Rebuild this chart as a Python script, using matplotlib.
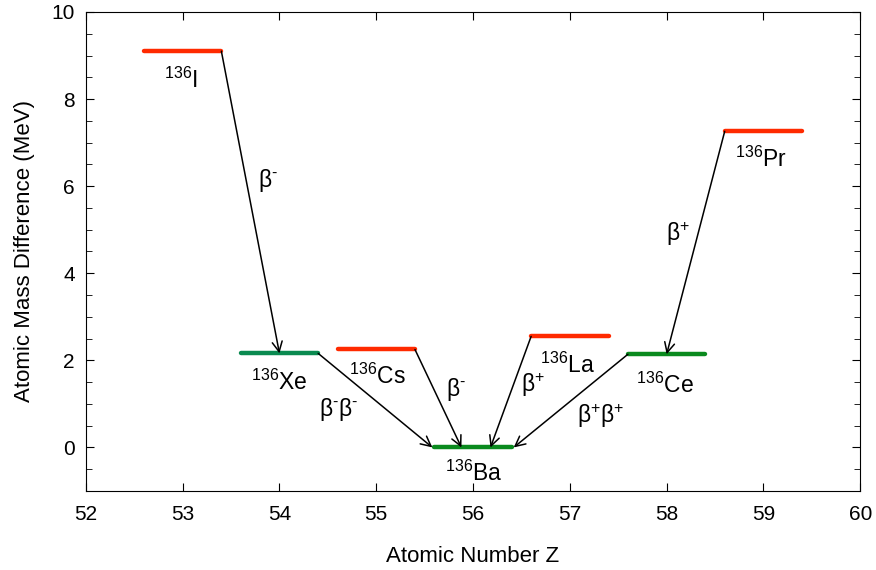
import matplotlib
matplotlib.use("Agg")
import matplotlib.pyplot as plt
from matplotlib.ticker import MultipleLocator

plt.rcParams['font.family'] = ['Liberation Sans', 'DejaVu Sans']
plt.rcParams['mathtext.fontset'] = 'custom'
plt.rcParams['mathtext.rm'] = 'Liberation Sans'
plt.rcParams['mathtext.it'] = 'Liberation Sans'
plt.rcParams['mathtext.default'] = 'regular'

# Data
nuclides = ['I', 'Xe', 'Cs', 'Ba', 'La', 'Ce', 'Pr']
Z = [53, 54, 55, 56, 57, 58, 59]
mass_diff = [9.10, 2.16, 2.25, 0.00, 2.55, 2.14, 7.26]
colors = ['#ff2a00', '#0a8a50', '#ff2a00', '#0a8a1e', '#ff2a00', '#0a8a1e', '#ff2a00']
label_pos = [(52.98, 8.25), (54.00, 1.33), (55.01, 1.47), (56.01, -0.76),
             (56.98, 1.72), (57.98, 1.26), (58.97, 6.44)]

# decays: (from index, to index, start x, end x, label, label x, label y)
decays = [(0, 1, 53.40, 54.00, 'β$^{\\text{-}}$', 53.88, 6.14),
          (1, 3, 54.40, 55.58, 'β$^{\\text{-}}$β$^{\\text{-}}$', 54.61, 0.87),
          (2, 3, 55.40, 55.88, 'β$^{\\text{-}}$', 55.82, 1.32),
          (4, 3, 56.60, 56.18, 'β$^{+}$', 56.62, 1.44),
          (5, 3, 57.60, 56.42, 'β$^{+}$β$^{+}$', 57.32, 0.72),
          (6, 5, 58.60, 58.00, 'β$^{+}$', 58.12, 4.90)]

fig = plt.figure(figsize=(8.76, 5.70), dpi=100)
ax = fig.add_axes([0.098, 0.1386, 0.884, 0.8404])

for z, m, c in zip(Z, mass_diff, colors):
    ax.plot([z - 0.4, z + 0.4], [m, m], color=c, lw=3.2, solid_capstyle='round', zorder=2)

for (nm, (lx, ly)) in zip(nuclides, label_pos):
    ax.text(lx, ly, '$^{136}$' + nm, fontsize=16.5, ha='center', va='baseline')

for i, j, x0, x1, lab, tx, ty in decays:
    ax.annotate('', xy=(x1, mass_diff[j]), xytext=(x0, mass_diff[i]),
                arrowprops=dict(arrowstyle='->', color='black', lw=1.1,
                                shrinkA=0, shrinkB=0, mutation_scale=18), zorder=3)
    ax.text(tx, ty, lab, fontsize=16.5, ha='center', va='center')

ax.set_xlim(52, 60)
ax.set_ylim(-1, 10)
ax.xaxis.set_major_locator(MultipleLocator(1))
ax.yaxis.set_major_locator(MultipleLocator(2))
ax.yaxis.set_minor_locator(MultipleLocator(0.5))
ax.tick_params(which='both', direction='in', top=True, right=True, labelsize=15)
ax.tick_params(which='major', length=6)
ax.tick_params(which='minor', length=4)
ax.tick_params(axis='x', pad=10)
ax.tick_params(axis='y', pad=8)
ax.set_xlabel('Atomic Number Z', fontsize=16, labelpad=16)
ax.set_ylabel('Atomic Mass Difference (MeV)', fontsize=16, labelpad=12)

fig.savefig('out.png', dpi=100)
